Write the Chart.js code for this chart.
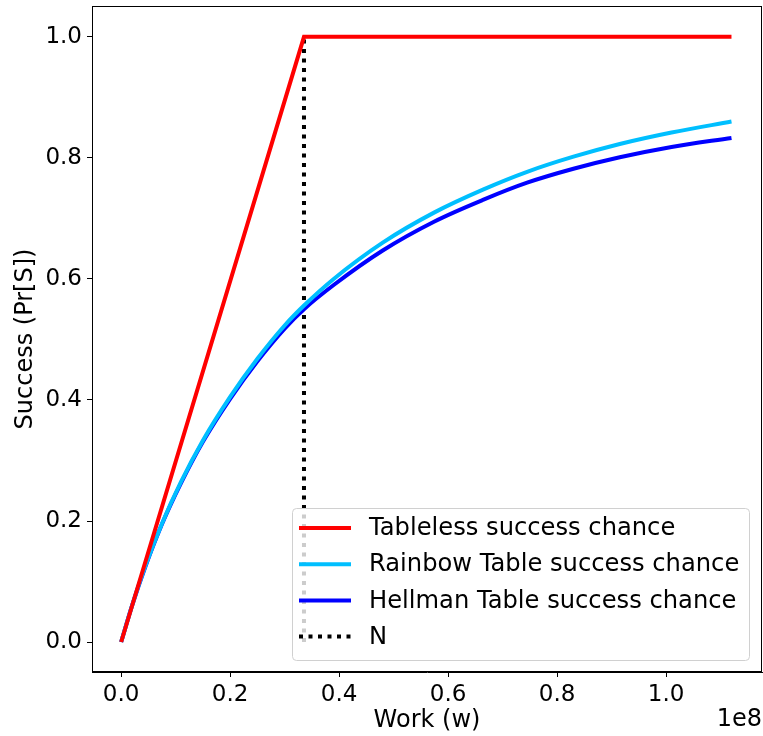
<!DOCTYPE html>
<html>
<head>
<meta charset="utf-8">
<script src="https://cdn.jsdelivr.net/npm/chart.js@4.4.1/dist/chart.umd.min.js"></script>
<style>
  html, body { margin: 0; padding: 0; background: #fff; }
  #wrap { width: 763px; height: 736px; }
</style>
</head>
<body>
<div id="wrap"><canvas id="chart" width="763" height="736"></canvas></div>
<script>
// work values in units of 1e8
const curveWork = [0, 0.02, 0.045, 0.075, 0.11, 0.15, 0.2, 0.25, 0.3, 0.3355, 0.39, 0.48, 0.575, 0.665, 0.745, 0.83, 0.915, 1.01, 1.12];
const rainbowSuccess = [0, 0.060, 0.127, 0.196, 0.265, 0.333, 0.405, 0.468, 0.523, 0.556, 0.600, 0.660, 0.710, 0.748, 0.777, 0.802, 0.823, 0.842, 0.860];
const hellmanSuccess = [0, 0.060, 0.126, 0.195, 0.263, 0.331, 0.402, 0.464, 0.518, 0.550, 0.590, 0.647, 0.695, 0.731, 0.759, 0.782, 0.801, 0.818, 0.833];
const tablelessWork = [0, 0.3355, 1.12];
const tablelessSuccess = [0, 1, 1];
const nWork = [0.3355, 0.3355];
const nSuccess = [0, 1];

const xTicks = [0, 0.2, 0.4, 0.6, 0.8, 1.0];
const yTicks = [0, 0.2, 0.4, 0.6, 0.8, 1.0];

const FONT = 'DejaVu Sans';
const toPoints = (xs, ys) => xs.map((x, i) => ({ x: x, y: ys[i] }));

// frame on all four sides + offset text "1e8"
const framePlugin = {
  id: 'frame',
  afterDraw(chart) {
    const { ctx, chartArea: a } = chart;
    ctx.save();
    ctx.strokeStyle = '#000';
    ctx.lineWidth = 1;
    ctx.strokeRect(a.left + 0.5, a.top + 0.5, a.right - a.left - 1, a.bottom - a.top - 1);
    ctx.fillStyle = '#000';
    ctx.font = '24px "' + FONT + '"';
    ctx.textAlign = 'right';
    ctx.textBaseline = 'middle';
    ctx.fillText('1e8', a.right, 720);
    ctx.restore();
  }
};

// matplotlib-like legend in the lower right corner
const legendPlugin = {
  id: 'boxLegend',
  afterDraw(chart) {
    const { ctx } = chart;
    const x0 = 292, y0 = 508, w = 457, h = 152, r = 4;
    ctx.save();
    ctx.beginPath();
    ctx.roundRect(x0 + 0.5, y0 + 0.5, w, h, r);
    ctx.fillStyle = 'rgba(255,255,255,0.8)';
    ctx.fill();
    ctx.strokeStyle = '#d0d0d0';
    ctx.lineWidth = 1;
    ctx.stroke();
    ctx.font = '24.2px "' + FONT + '"';
    ctx.textBaseline = 'middle';
    ctx.textAlign = 'left';
    chart.data.datasets.forEach((ds, i) => {
      const cy = 528 + i * 36.2;
      ctx.beginPath();
      ctx.setLineDash(ds.borderDash || []);
      ctx.strokeStyle = ds.borderColor;
      ctx.lineWidth = ds.borderWidth;
      ctx.moveTo(299, cy);
      ctx.lineTo(351, cy);
      ctx.stroke();
      ctx.setLineDash([]);
      ctx.fillStyle = '#000';
      ctx.fillText(ds.label, 369, cy + 1);
    });
    ctx.restore();
  }
};

const common = { pointRadius: 0, borderWidth: 4, fill: false };

new Chart(document.getElementById('chart').getContext('2d'), {
  type: 'line',
  data: {
    datasets: [
      { ...common, label: 'Tableless success chance', data: toPoints(tablelessWork, tablelessSuccess), borderColor: '#ff0000' },
      { ...common, label: 'Rainbow Table success chance', data: toPoints(curveWork, rainbowSuccess), borderColor: '#00bfff', cubicInterpolationMode: 'monotone' },
      { ...common, label: 'Hellman Table success chance', data: toPoints(curveWork, hellmanSuccess), borderColor: '#0000ff', cubicInterpolationMode: 'monotone' },
      { ...common, label: 'N', data: toPoints(nWork, nSuccess), borderColor: '#000000', borderDash: [4, 5.5], borderCapStyle: 'butt' }
    ]
  },
  options: {
    responsive: false,
    animation: false,
    layout: { padding: { top: 6, right: 1, left: 0, bottom: 0 } },
    plugins: { legend: { display: false }, tooltip: { enabled: false } },
    scales: {
      x: {
        type: 'linear',
        min: -0.0535,
        max: 1.176,
        afterBuildTicks: (scale) => { scale.ticks = xTicks.map(v => ({ value: v })); },
        afterFit: (scale) => { scale.height = 64; scale.paddingLeft = 0; scale.paddingRight = 0; },
        grid: { drawOnChartArea: false, drawTicks: true, tickLength: 5, color: '#000' },
        border: { display: true, color: '#000', width: 1 },
        ticks: { color: '#000', padding: 4, maxRotation: 0, font: { family: FONT, size: 23 }, callback: (v) => Number(v).toFixed(1) },
        title: { display: true, text: 'Work (w)', color: '#000', font: { family: FONT, size: 24 }, padding: { top: 0, bottom: 1 } }
      },
      y: {
        min: -0.0495,
        max: 1.051,
        afterBuildTicks: (scale) => { scale.ticks = yTicks.map(v => ({ value: v })); },
        afterFit: (scale) => { scale.width = 92; scale.paddingTop = 0; scale.paddingBottom = 0; },
        grid: { drawOnChartArea: false, drawTicks: true, tickLength: 5, color: '#000' },
        border: { display: true, color: '#000', width: 1 },
        ticks: { color: '#000', padding: 5, font: { family: FONT, size: 23 }, callback: (v) => Number(v).toFixed(1) },
        title: { display: true, text: 'Success (Pr[S])', color: '#000', font: { family: FONT, size: 24 }, padding: { top: 11, bottom: 0 } }
      }
    }
  },
  plugins: [framePlugin, legendPlugin]
});
</script>
</body>
</html>
